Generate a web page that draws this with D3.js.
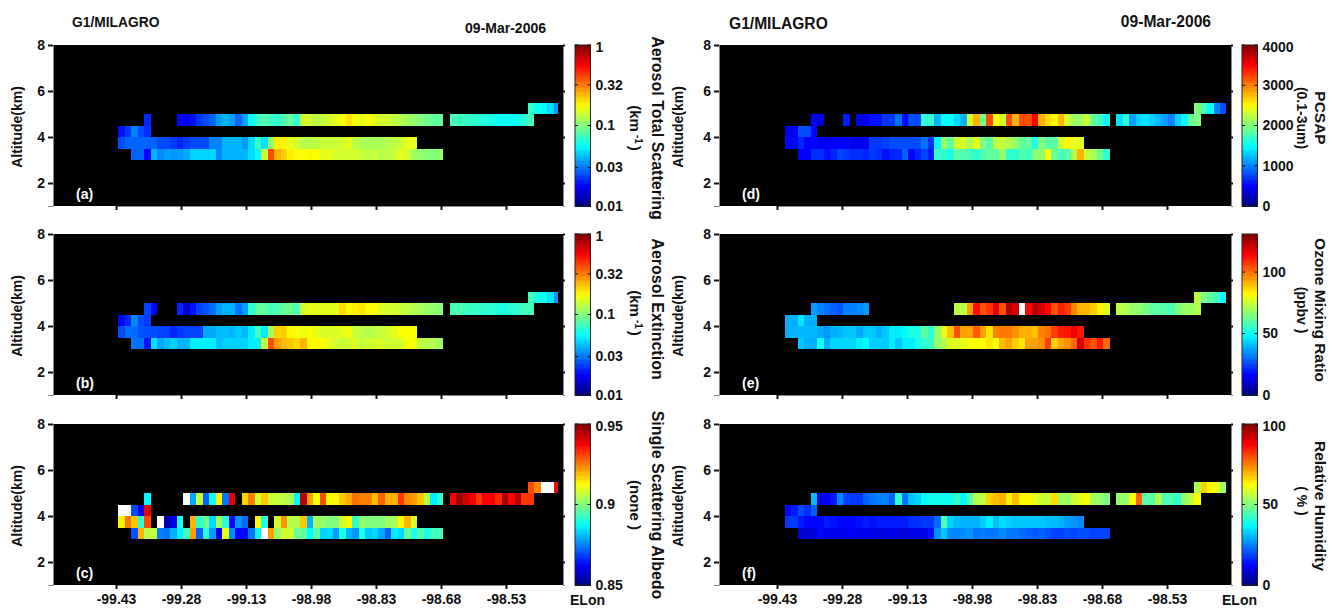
<!DOCTYPE html>
<html>
<head>
<meta charset="utf-8">
<script src="https://cdn.jsdelivr.net/npm/d3@7"></script>
<style>
  body { margin: 0; background: #fff; }
  svg { display: block; }
  text { font-family: "Liberation Sans", Arial, sans-serif; font-weight: bold; fill: #111; }
</style>
</head>
<body>
<div id="chart"></div>
<script>
// altitude bin bottoms (km) and first longitude bin of each row, top row first
const altBins = [5, 4.5, 4, 3.5, 3];
const rowFirstBin = [63, 4, 0, 0, 2];
const lonStep = 0.015;
const lonTicks = [-99.43, -99.28, -99.13, -98.98, -98.83, -98.68, -98.53];
const altTicks = [2, 4, 6, 8];
const _ = null;

const scatRows = [
  [.072,.06,.055,.048,.036],
  [.021,_,_,_,_,.018,.016,.019,.023,.025,.028,.036,.04,.036,.028,.036,.058,.072,.083,.076,.069,.083,.087,.069,
   .145,.145,.132,.138,.145,.158,.174,.2,.174,.158,.174,.158,.145,.145,.132,.126,.115,.11,.1,.095,.087,.087,_,
   .076,.076,.072,.069,.069,.066,.063,.06,.058,.058,.06,.069,.076],
  [.019,.023,.032,.025,.022],
  [.025,.028,.028,.028,.028,.028,.025,.025,.023,.021,.023,.025,.025,.025,.032,.032,.04,.04,.04,.036,.048,.072,.05,.11,.19,.19,.158,.145,
   .126,.126,.132,.138,.138,.138,.145,.158,.132,.12,.12,.12,.12,.126,.132,.138,.158,.158],
  [.028,.028,.018,.04,.033,.036,.035,.036,.038,.046,.046,.046,.046,.033,.04,.04,.04,.04,.048,.055,.138,.4,.251,.219,.19,.174,
   .174,.182,.174,.158,.158,.145,.145,.145,.145,.138,.132,.138,.126,.132,.138,.158,.145,.115,.11,.105,.1,.11]
];
const extRows = [
  [.076,.063,.058,.05,.035],
  [.024,.018,_,_,_,.021,.0145,.019,.024,.026,.029,.036,.04,.04,.03,.036,.069,.087,.087,.076,.079,.091,.091,.079,
   .145,.158,.158,.158,.158,.158,.209,.182,.19,.2,.174,.174,.151,.145,.145,.138,.132,.126,.12,.11,.11,.105,_,
   .079,.079,.076,.072,.072,.069,.069,.066,.063,.069,.069,.076,.076],
  [.018,.021,.033,.025,.023],
  [.025,.029,.029,.026,.025,.025,.024,.024,.021,.023,.024,.024,.024,.038,.038,.042,.042,.04,.044,.04,.052,.076,.052,.12,.219,.219,.182,.174,
   .166,.174,.158,.151,.151,.151,.158,.166,.138,.132,.126,.132,.138,.145,.158,.174,.174,.174],
  [.03,.03,.019,.05,.038,.042,.046,.04,.04,.052,.052,.052,.052,.042,.046,.046,.046,.046,.052,.052,.132,.4,.275,.24,.229,.209,
   .251,.182,.182,.174,.158,.145,.138,.145,.151,.132,.145,.145,.151,.138,.145,.145,.174,.174,.132,.126,.126,.115]
];
// 0.96 is off the colour scale and draws white
const ssaRows = [
  [.93,.924,.96,.96,.938],
  [.887,_,_,_,_,_,.96,.879,.907,.872,.889,.913,.874,.94,_,.917,.925,.908,.918,.907,.907,.906,.904,.887,.944,.922,.912,.93,.913,.913,
   .918,.921,.926,.925,.925,.919,.928,.92,.92,.932,.924,.922,.918,.905,.886,.892,_,
   .938,.947,.942,.939,.932,.938,.939,.934,.946,.938,.945,.932,.932],
  [.96,.96,.87,.859,.94],
  [.914,.926,.918,.892,.93,_,.96,.854,.86,.89,_,.92,.892,.898,.884,.903,.892,.863,.877,.873,_,.913,.89,_,.908,.923,.905,.905,.918,.88,.903,.902,.9,.9,
   .908,.913,.892,.902,.9,.9,.9,.903,.904,.913,.92,.908],
  [.87,.92,.905,.907,.875,.874,.88,.886,.894,.922,.872,.892,.878,.86,.91,.876,.863,.863,.874,.887,.96,.922,.902,.908,.908,.898,.897,.888,.896,.883,.884,.878,
   .89,.88,.877,.89,.882,.884,.879,.872,.886,.884,.897,.89,.895,.89,.894,.894]
];
const pcsapRows = [
  [2000,1800,1520,1000,800],
  [500,360,_,_,_,600,_,360,480,560,560,720,720,960,560,800,800,1680,1720,1200,1520,1520,1360,1200,2320,2800,1920,3200,2480,2320,
   3200,2800,3200,3200,3520,2800,2640,2520,2800,2320,2120,2120,2320,1880,1720,1520,_,
   1400,1680,1120,1320,1400,1320,1200,1120,1000,1320,1480,1880,2000],
  [400,500,800,800,520],
  [500,520,640,480,520,480,480,480,500,500,400,440,440,720,720,760,800,800,800,800,800,960,680,1480,2080,1880,2320,2320,2160,2400,2000,1840,2240,
   2280,2200,2080,1880,1880,1600,2000,1840,1840,2320,2520,2400,2400],
  [480,480,680,680,560,640,760,720,680,680,640,720,680,560,640,640,880,520,640,760,600,1720,1680,1600,1880,1800,1760,1680,1800,1880,1880,2080,
   1680,1680,1800,1760,2000,2080,2480,1920,1760,1840,2200,2800,2280,2160,1920,1680]
];
const ozoneRows = [
  [73,65,61,57,49],
  [36,33,31,29,27,33,33,34,36,_,_,_,_,_,_,_,_,_,_,_,_,_,73,73,94,113,104,108,117,104,124,120,135,114,124,120,114,104,111,107,98,91,91,88,83,78,_,
   73,72,68,68,65,61,61,60,59,65,69,69,72],
  [39,39,46,39,39],
  [39,40,40,40,40,38,36,39,40,42,42,38,42,42,39,42,47,47,49,53,53,61,55,68,78,90,104,94,94,103,94,85,98,
   99,99,96,92,92,90,98,100,107,111,112,116,112],
  [42,39,39,51,39,44,44,44,44,47,49,43,43,42,47,42,47,47,52,55,56,68,72,78,78,79,81,82,82,85,81,
   91,94,88,85,94,94,96,107,88,94,96,101,120,108,104,111,101]
];
const rhRows = [
  [55,67,63,60,53],
  [31,10,12,15,26,19,18,18,22,24,25,25,22,42,24,32,33,38,39,39,39,39,43,37,46,55,56,67,69,70,
   64,69,63,63,60,58,57,66,53,53,57,60,62,53,52,50,_,
   52,52,62,78,46,46,54,45,45,42,52,56,62],
  [13,15,20,17,22],
  [18,18,15,13,13,13,15,14,13,13,13,14,15,14,15,15,15,15,15,17,17,18,18,23,45,33,31,30,30,30,33,36,31,
   34,33,32,32,32,32,32,31,31,30,28,27,26],
  [8,8,9,13,11,11,11,11,12,11,11,10,10,9,11,10,9,10,10,10,14,27,32,26,26,26,27,24,25,24,24,26,
   24,24,23,22,21,22,21,19,19,20,19,20,20,19,19,19]
];

const panels = [
  {rows: scatRows, tag: "(a)", col: 0, row: 0, log: true, dom: [.01, 1], ticks: [.01, .03, .1, .32, 1],
   title: "Aerosol Total Scattering", unit: "(km", titleMid: 128, unitMid: 128},
  {rows: extRows, tag: "(b)", col: 0, row: 1, log: true, dom: [.01, 1], ticks: [.01, .03, .1, .32, 1],
   title: "Aerosol Extinction", unit: "(km", titleMid: 309, unitMid: 313},
  {rows: ssaRows, tag: "(c)", col: 0, row: 2, log: false, dom: [.85, .95], ticks: [.85, .9, .95],
   title: "Single Scattering Albedo", unit: "(none  )", titleMid: 505, unitMid: 505},
  {rows: pcsapRows, tag: "(d)", col: 1, row: 0, log: false, dom: [0, 4000], ticks: [0, 1000, 2000, 3000, 4000],
   title: "PCSAP", unit: "(0.1-3um)", titleMid: 118, unitMid: 118},
  {rows: ozoneRows, tag: "(e)", col: 1, row: 1, log: false, dom: [0, 131], ticks: [0, 50, 100],
   title: "Ozone Mixing Ratio", unit: "(ppbv )", titleMid: 310, unitMid: 310},
  {rows: rhRows, tag: "(f)", col: 1, row: 2, log: false, dom: [0, 100], ticks: [0, 50, 100],
   title: "Relative Humidity", unit: "( %  )", titleMid: 506, unitMid: 501}
];

// left and right column geometry
const cols = [
  {left: 53, right: 563, tick0: 116, firstLon: -99.425, lonEnd: -98.41, barX: 575, unitX: 630, titleX: 652, altX: 22, tagX: 76,
   head: {x: 72, y: 27, size: 13.8}, date: {x: 546, y: 33, size: 14}, elon: 570, titleSize: 16, unitSize: 15},
  {left: 719, right: 1231, tick0: 777, firstLon: -99.412, lonEnd: -98.394, barX: 1242, unitX: 1297, titleX: 1315, altX: 683, tagX: 742,
   head: {x: 729, y: 29, size: 15.6}, date: {x: 1211, y: 27, size: 15.6}, elon: 1222, titleSize: 15.5, unitSize: 14}
];
const tops = [45, 234, 424];
const plotH = 161;
const barW = 15.5;

const jet = d3.scaleLinear()
  .domain([0, .125, .375, .625, .875, 1])
  .range(["#000080", "#0000ff", "#00ffff", "#ffff00", "#ff0000", "#800000"])
  .clamp(true);

const svg = d3.select("#chart").append("svg")
  .attr("width", 1339)
  .attr("height", 608);

cols.forEach(c => {
  svg.append("text").attr("x", c.head.x).attr("y", c.head.y).style("font-size", c.head.size + "px").text("G1/MILAGRO");
  svg.append("text").attr("x", c.date.x).attr("y", c.date.y).attr("text-anchor", "end").style("font-size", c.date.size + "px").text("09-Mar-2006");
  svg.append("text").attr("x", c.elon).attr("y", 605).style("font-size", "14px").text("ELon");
});

panels.forEach(p => {
  const c = cols[p.col];
  const top = tops[p.row];

  const x = d3.scaleLinear()
    .domain([lonTicks[0], lonTicks[6]])
    .range([c.tick0, c.tick0 + 390]);
  const y = d3.scaleLinear().domain([1, 8]).range([top + plotH, top]);

  const norm = (p.log ? d3.scaleLog() : d3.scaleLinear()).domain(p.dom).range([0, 1]);
  const cellColor = v => (v > p.dom[1] ? "#fff" : jet(norm(v)));

  svg.append("rect")
    .attr("x", c.left)
    .attr("y", top)
    .attr("width", c.right - c.left)
    .attr("height", plotH)
    .attr("fill", "#000");

  const cells = d3.merge(p.rows.map((vals, r) => vals.map((v, i) => ({
    alt: altBins[r],
    lon: c.firstLon + (rowFirstBin[r] + i) * lonStep,
    v: v
  })))).filter(d => d.v !== null);

  svg.append("g")
    .attr("shape-rendering", "crispEdges")
    .selectAll("rect")
    .data(cells)
    .join("rect")
    .attr("x", d => x(d.lon))
    .attr("y", d => y(d.alt + 0.5))
    .attr("width", d => x(Math.min(d.lon + lonStep, c.lonEnd)) - x(d.lon))
    .attr("height", d => y(d.alt) - y(d.alt + 0.5))
    .attr("fill", d => cellColor(d.v));

  const xAxis = svg.append("g")
    .attr("transform", `translate(0,${top + plotH})`)
    .call(d3.axisBottom(x).tickValues(lonTicks).tickSize(4).tickFormat(d => d.toFixed(2)));
  xAxis.select(".domain").attr("stroke", "#888");
  xAxis.selectAll(".tick line").attr("stroke", "#111").attr("stroke-width", 2);
  xAxis.selectAll("text").attr("y", 9).style("font-size", "14px");
  if (p.row < 2) xAxis.selectAll("text").remove();

  const yAxis = svg.append("g")
    .attr("transform", `translate(${c.left},0)`)
    .call(d3.axisLeft(y).tickValues(altTicks).tickSize(5).tickFormat(d3.format("d")));
  yAxis.select(".domain").attr("stroke", "#888");
  yAxis.selectAll(".tick line").attr("stroke", "#111").attr("stroke-width", 2);
  yAxis.selectAll("text").attr("x", -8).style("font-size", "14px");

  // short marks on the right edge of the frame
  const yRight = svg.append("g")
    .attr("transform", `translate(${c.right},0)`)
    .call(d3.axisRight(y).tickValues(altTicks).tickSize(2).tickFormat(""));
  yRight.select(".domain").attr("stroke", "#888");
  yRight.selectAll(".tick line").attr("stroke", "#111").attr("stroke-width", 2);

  svg.append("text")
    .attr("x", c.tagX)
    .attr("y", top + 154)
    .style("font-size", "14px")
    .style("fill", "#fff")
    .text(p.tag);

  svg.append("text")
    .attr("transform", `translate(${c.altX},${top + 82}) rotate(-90)`)
    .attr("text-anchor", "middle")
    .style("font-size", "14px")
    .text("Altitude(km)");

  // colour bar
  const barY = d3.scaleLinear().domain([0, 1]).range([top + plotH, top]);
  svg.append("g")
    .attr("shape-rendering", "crispEdges")
    .selectAll("rect")
    .data(d3.range(0, 1, 1 / 64))
    .join("rect")
    .attr("x", c.barX)
    .attr("y", d => barY(d + 1 / 64))
    .attr("width", barW)
    .attr("height", d => barY(d) - barY(d + 1 / 64) + 0.5)
    .attr("fill", d => jet(d + 1 / 128));
  svg.append("rect")
    .attr("x", c.barX)
    .attr("y", top)
    .attr("width", barW)
    .attr("height", plotH)
    .attr("fill", "none")
    .attr("stroke", "#222");

  const barLabels = svg.append("g").selectAll("g")
    .data(p.ticks)
    .join("g")
    .attr("transform", d => `translate(${c.barX + barW},${barY(norm(d))})`);
  barLabels.append("line").attr("x1", -3).attr("x2", 0).attr("stroke", "#111");
  barLabels.append("line").attr("x1", -barW).attr("x2", 3 - barW).attr("stroke", "#111");
  barLabels.append("text")
    .attr("x", 5)
    .attr("dy", d => (barY(norm(d)) <= top + 1 ? "0.5em" : "0.35em"))
    .style("font-size", "14px")
    .text(d => d3.format("~r")(d));

  // rotated labels on the right of the colour bar
  svg.append("text")
    .attr("transform", `translate(${c.titleX},${p.titleMid}) rotate(90)`)
    .attr("text-anchor", "middle")
    .style("font-size", c.titleSize + "px")
    .text(p.title);
  const unit = svg.append("text")
    .attr("transform", `translate(${c.unitX},${p.unitMid}) rotate(90)`)
    .attr("text-anchor", "middle")
    .style("font-size", c.unitSize + "px")
    .text(p.unit);
  if (p.unit === "(km") {
    unit.append("tspan").attr("dx", 3).attr("dy", -5).style("font-size", "10px").text("-1");
    unit.append("tspan").attr("dx", 2).attr("dy", 5).text(")");
  }
});
</script>
</body>
</html>
